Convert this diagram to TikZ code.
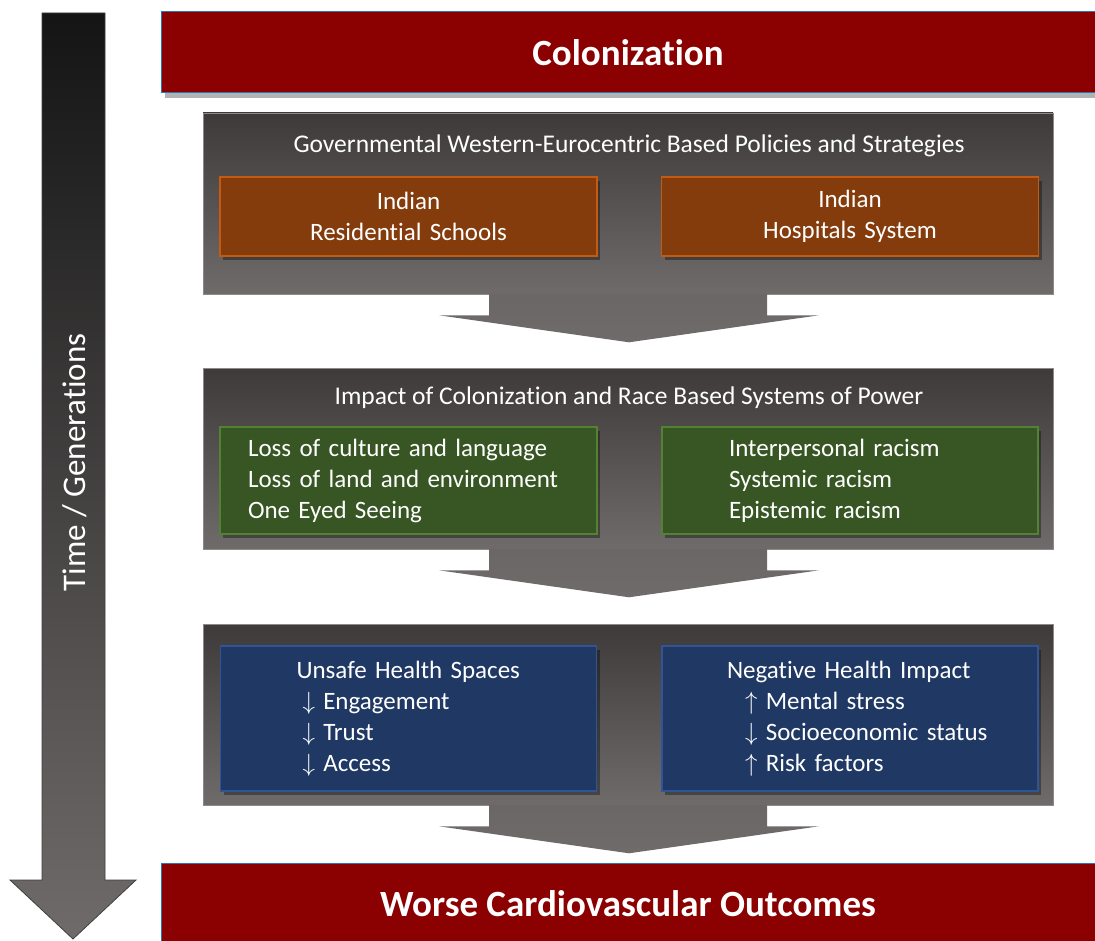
\documentclass[tikz,border=0pt]{standalone}
\usepackage{fontspec}
\setmainfont{Carlito}[Ligatures={NoCommon}]
\usetikzlibrary{shadows}
\definecolor{bannerred}{HTML}{8B0000}
\definecolor{bannerborder}{HTML}{2E75B6}
\definecolor{paneltop}{HTML}{3E3A39}
\definecolor{panelbot}{HTML}{6F6B6A}
\definecolor{orangefill}{HTML}{843C0C}
\definecolor{orangeborder}{HTML}{C55A11}
\definecolor{greenfill}{HTML}{375623}
\definecolor{greenborder}{HTML}{548235}
\definecolor{bluefill}{HTML}{1F3864}
\definecolor{blueborder}{HTML}{2F5597}
\begin{document}
\begin{tikzpicture}[x=1pt,y=-1pt,
  banner/.style={rectangle, fill=bannerred, draw=bannerborder, line width=1pt,
    minimum width=934pt, minimum height=81pt, inner sep=0pt, text=white,
    font=\fontsize{37}{44}\selectfont\bfseries,
    drop shadow={shadow xshift=4pt, shadow yshift=-5pt, opacity=0.3, fill=black}},
  panel/.style={rectangle, top color=paneltop, bottom color=panelbot, draw=panelbot!80!white, line width=0.6pt,
    minimum width=850pt, minimum height=181pt, inner sep=0pt},
  paneltitle/.style={text=white, font=\fontsize{25.5}{30}\selectfont, inner sep=0pt},
  chev/.style={top color=panelbot!96!black, bottom color=panelbot},
  innerbox/.style={rectangle, line width=1.2pt, text=white, inner ysep=0pt,
    font=\fontsize{25}{31}\selectfont,
    drop shadow={shadow xshift=3pt, shadow yshift=-4pt, opacity=0.35, fill=black}},
  orangebox/.style={innerbox, fill=orangefill, draw=orangeborder, align=center,
    minimum width=377pt, minimum height=79pt, inner xsep=0pt, text width=377pt},
  greenbox/.style={innerbox, fill=greenfill, draw=greenborder, align=left, minimum height=107pt},
  bluebox/.style={innerbox, fill=bluefill, draw=blueborder, align=left, minimum height=145pt,
    inner xsep=0pt, text width=376pt},
]
\useasboundingbox (0,0) rectangle (1095,941);

% time arrow
\shade[top color=black!92, bottom color=panelbot, draw=black!75, line width=0.8pt]
  (42,13) -- (105,13) -- (105,880) -- (136,880) -- (73,939) -- (10,880) -- (42,880) -- cycle;
\node[rotate=90, text=white, font=\fontsize{33}{40}\selectfont, inner sep=0pt] (time) at (75,462.5) {Time / Generations};

% banners
\node[banner] (colon) at (628,52.5) {Colonization};
\node[banner] (worse) at (628,903.5) {Worse Cardiovascular Outcomes};

% panels
\node[panel] (p1) at (628,203.5) {};
\node[panel] (p2) at (628,458.5) {};
\node[panel] (p3) at (628,714.5) {};

% chevrons
\foreach \p in {p1,p2,p3}{
  \shade[chev, shift={(\p.south)}] (-139,-0.5) -- (139,-0.5) -- (139,21) -- (191,21) -- (1,48) -- (-189,21) -- (-139,21) -- cycle;
}

% panel 1
\node[paneltitle] (t1) at (629,146) {Governmental Western-Eurocentric Based Policies and Strategies};
\node[orangebox] (irs) at (408.5,216.5) {Indian\\Residential Schools};
\node[orangebox] (ihs) at (850,216.5) {Indian\\Hospitals System};

% panel 2
\node[paneltitle] (t2) at (629,398) {Impact of Colonization and Race Based Systems of Power};
\node[greenbox, minimum width=377pt, inner xsep=28pt, text width=321pt] (loss) at (408.5,480.5)
  {Loss of culture and language\\Loss of land and environment\\One Eyed Seeing};
\node[greenbox, minimum width=376pt, inner xsep=67pt, text width=242pt] (racism) at (850,480.5)
  {Interpersonal racism\\Systemic racism\\Epistemic racism};

% panel 3
\node[bluebox] (unsafe) at (408.5,718.5)
  {\hspace*{76pt}Unsafe Health Spaces\\\hspace*{82pt}$\downarrow$ Engagement\\\hspace*{82pt}$\downarrow$ Trust\\\hspace*{82pt}$\downarrow$ Access};
\node[bluebox] (neg) at (850,718.5)
  {\hspace*{65pt}Negative Health Impact\\\hspace*{83pt}$\uparrow$ Mental stress\\\hspace*{83pt}$\downarrow$ Socioeconomic status\\\hspace*{83pt}$\uparrow$ Risk factors};
\end{tikzpicture}
\end{document}
